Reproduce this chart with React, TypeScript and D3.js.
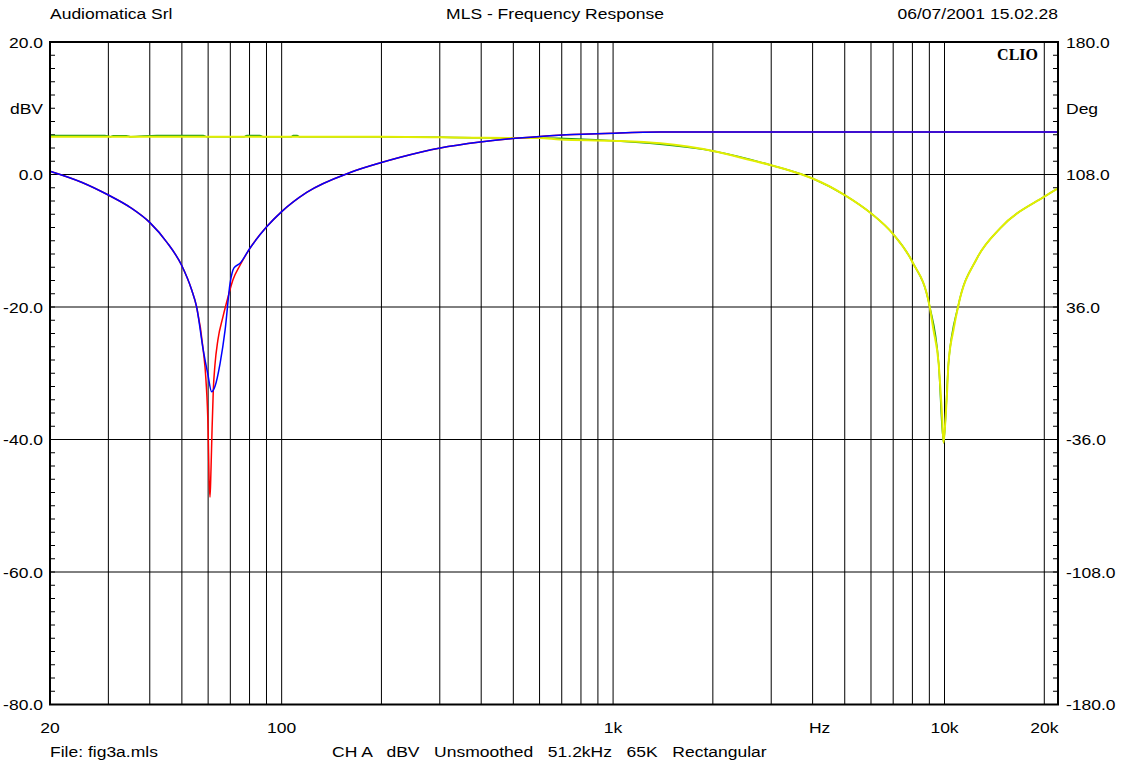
import React from "react";
import * as d3 from "d3";

const W = 1130;
const H = 765;

// ---- data ----
const blueFreq = [20, 25, 30, 35, 40.1, 45, 49.9, 53.5, 55.4, 58.0, 59.8, 61.5, 62.9, 65.2, 67.5, 69.9, 71.8, 74.9, 80.3, 90.1, 100, 119, 161, 200, 228, 301, 397, 489, 602, 757, 946, 1390, 22000];
const blueDb = [0.5, -1.2, -3.1, -5.0, -7.3, -10.2, -13.7, -17.4, -20.0, -26.5, -30.0, -32.8, -32.0, -28.5, -23.5, -16.4, -14.1, -13.4, -11.1, -7.9, -5.6, -2.7, 0.3, 1.8, 2.6, 4.0, 4.9, 5.4, 5.75, 6.05, 6.2, 6.4, 6.4];

const redFreq = [20, 25, 30, 35, 40.1, 45, 49.9, 53.5, 55.4, 58.0, 59.1, 60.0, 60.4, 60.8, 61.2, 61.65, 62.2, 62.9, 64.2, 66.5, 68.9, 71.3, 74.9, 80.3, 90.1, 100, 119, 161, 200, 228, 301, 397, 489, 602, 757, 946, 1390, 22000];
const redDb = [0.5, -1.2, -3.1, -5.0, -7.3, -10.2, -13.7, -17.4, -20.0, -26.5, -31.0, -38.6, -46.0, -48.7, -44.6, -38.6, -32.5, -28.8, -25.0, -21.5, -18.5, -15.9, -13.7, -11.1, -7.9, -5.6, -2.7, 0.3, 1.8, 2.6, 4.0, 4.9, 5.4, 5.75, 6.05, 6.2, 6.4, 6.4];

const yellowFreq = [20, 50, 100, 200, 400, 600, 690, 1000, 1390, 2000, 2590, 3000, 3540, 4000, 5000, 6000, 7000, 8000, 9000, 9265, 9600, 9820, 9933, 10050, 10165, 10280, 10640, 11015, 12530, 14730, 20000, 22000];
const yellowDb = [5.7, 5.7, 5.7, 5.7, 5.55, 5.5, 5.3, 5.1, 4.7, 3.55, 2.2, 1.4, 0.35, -0.6, -3.1, -5.85, -9.0, -13.2, -19.7, -23.5, -28.5, -36.0, -40.5, -37.5, -33.5, -28.5, -23.5, -19.7, -12.65, -8.1, -3.35, -2.1];

const greenFreq = [20, 29.3, 30.5, 31, 34, 35, 42, 58, 59.5, 77, 78.5, 86, 88, 107, 108.3, 111.4, 113, 200, 400, 600, 1000, 2000, 3000, 4000, 5000, 6000, 7000, 8000, 9000, 9600, 9933, 10280, 11015, 12530, 14730, 20000, 22000];
const greenDb = [5.9, 5.9, 5.7, 5.85, 5.85, 5.7, 5.9, 5.9, 5.7, 5.7, 5.9, 5.9, 5.7, 5.7, 5.9, 5.9, 5.7, 5.7, 5.55, 5.5, 5.1, 3.55, 1.4, -0.6, -3.1, -5.85, -9.0, -13.2, -19.7, -28.5, -40.5, -28.5, -19.7, -12.65, -8.1, -3.35, -2.1];

const gridFreqs = [30, 40, 50, 60, 70, 80, 90, 100, 200, 300, 400, 500, 600, 700, 800, 900, 1000, 2000, 3000, 4000, 5000, 6000, 7000, 8000, 9000, 10000, 20000];
const xLabels = [
  { f: 20, t: "20" },
  { f: 100, t: "100" },
  { f: 1000, t: "1k" },
  { f: 4200, t: "Hz" },
  { f: 10000, t: "10k" },
  { f: 20000, t: "20k" },
];
const dbTicks = [20, 0, -20, -40, -60, -80];
const degTicks = [180, 108, 36, -36, -108, -180];

const FONT = "'Liberation Sans', Arial, Helvetica, sans-serif";
const SX = 1.13;
const FS = 15.5;

function T(props: { x: number; y: number; anchor?: string; dy?: string; children: React.ReactNode; pre?: boolean }) {
  return (
    <text
      transform={`translate(${props.x},${props.y}) scale(${SX},1)`}
      textAnchor={props.anchor || "start"}
      dy={props.dy}
      fontSize={FS}
      style={props.pre ? { whiteSpace: "pre" } : undefined}
    >
      {props.children}
    </text>
  );
}

export default function App() {
  const left = 50, right = 1058, top = 42, bottom = 704.5;
  const x = d3.scaleLog().domain([20, 22000]).range([left, right]);
  const y = d3.scaleLinear().domain([-80, 20]).range([bottom, top]);
  const yDeg = d3.scaleLinear().domain([-180, 180]).range([bottom, top]);

  const mk = (fs: number[], vs: number[]) =>
    d3
      .line<number>()
      .x((_, i) => x(fs[i]))
      .y((v) => y(v))
      .curve(d3.curveMonotoneX)(vs) || "";

  const minor = d3.range(-80, 20.01, 2);

  return (
    <svg width={W} height={H} style={{ position: "absolute", left: 0, top: 0, background: "#fff" }} fontFamily={FONT}>
      <rect x={0} y={0} width={W} height={H} fill="#fff" />
      {/* grid */}
      {gridFreqs.map((f) => (
        <line key={"v" + f} x1={x(f)} x2={x(f)} y1={top} y2={bottom} stroke="#000" strokeWidth={1} />
      ))}
      {dbTicks.slice(1, -1).map((d) => (
        <line key={"h" + d} x1={left} x2={right} y1={y(d)} y2={y(d)} stroke="#000" strokeWidth={1} />
      ))}
      {/* minor ticks */}
      {minor.map((d) => (
        <g key={"m" + d}>
          <line x1={left} x2={left + 5} y1={y(d)} y2={y(d)} stroke="#000" strokeWidth={1} />
          <line x1={right - 5} x2={right} y1={y(d)} y2={y(d)} stroke="#000" strokeWidth={1} />
        </g>
      ))}
      {/* curves */}
      <path d={mk(greenFreq, greenDb)} fill="none" stroke="#1a9a1a" strokeWidth={1.5} />
      <path d={mk(yellowFreq, yellowDb)} fill="none" stroke="#e2ee00" strokeWidth={2} />
      <path d={mk(redFreq, redDb)} fill="none" stroke="#ff0000" strokeWidth={1.5} />
      <path d={mk(blueFreq, blueDb)} fill="none" stroke="#0000ff" strokeWidth={1.5} />
      {/* frame */}
      <rect x={left} y={top} width={right - left} height={bottom - top} fill="none" stroke="#000" strokeWidth={2} />
      <text x={1038} y={60} textAnchor="end" fontFamily="'Liberation Serif', 'Times New Roman', serif" fontWeight="bold" fontSize={16}>CLIO</text>
      {/* left labels */}
      {dbTicks.map((d) => (
        <T key={"l" + d} x={43} y={y(d)} dy="0.36em" anchor="end">{d.toFixed(1)}</T>
      ))}
      <T x={43} y={y(10)} dy="0.36em" anchor="end">dBV</T>
      {/* right labels */}
      {degTicks.map((d) => (
        <T key={"r" + d} x={1066} y={yDeg(d)} dy="0.36em">{d.toFixed(1)}</T>
      ))}
      <T x={1066} y={y(10)} dy="0.36em">Deg</T>
      {/* bottom labels */}
      {xLabels.map((l) => (
        <T key={"b" + l.t} x={x(l.f)} y={733} anchor="middle">{l.t}</T>
      ))}
      {/* header */}
      <T x={50} y={19}>Audiomatica Srl</T>
      <T x={555} y={19} anchor="middle">MLS - Frequency Response</T>
      <T x={1058} y={19} anchor="end">06/07/2001 15.02.28</T>
      {/* footer */}
      <T x={50} y={757}>File: fig3a.mls</T>
      <T x={332} y={757} pre>{"CH A   dBV   Unsmoothed   51.2kHz   65K   Rectangular"}</T>
    </svg>
  );
}
